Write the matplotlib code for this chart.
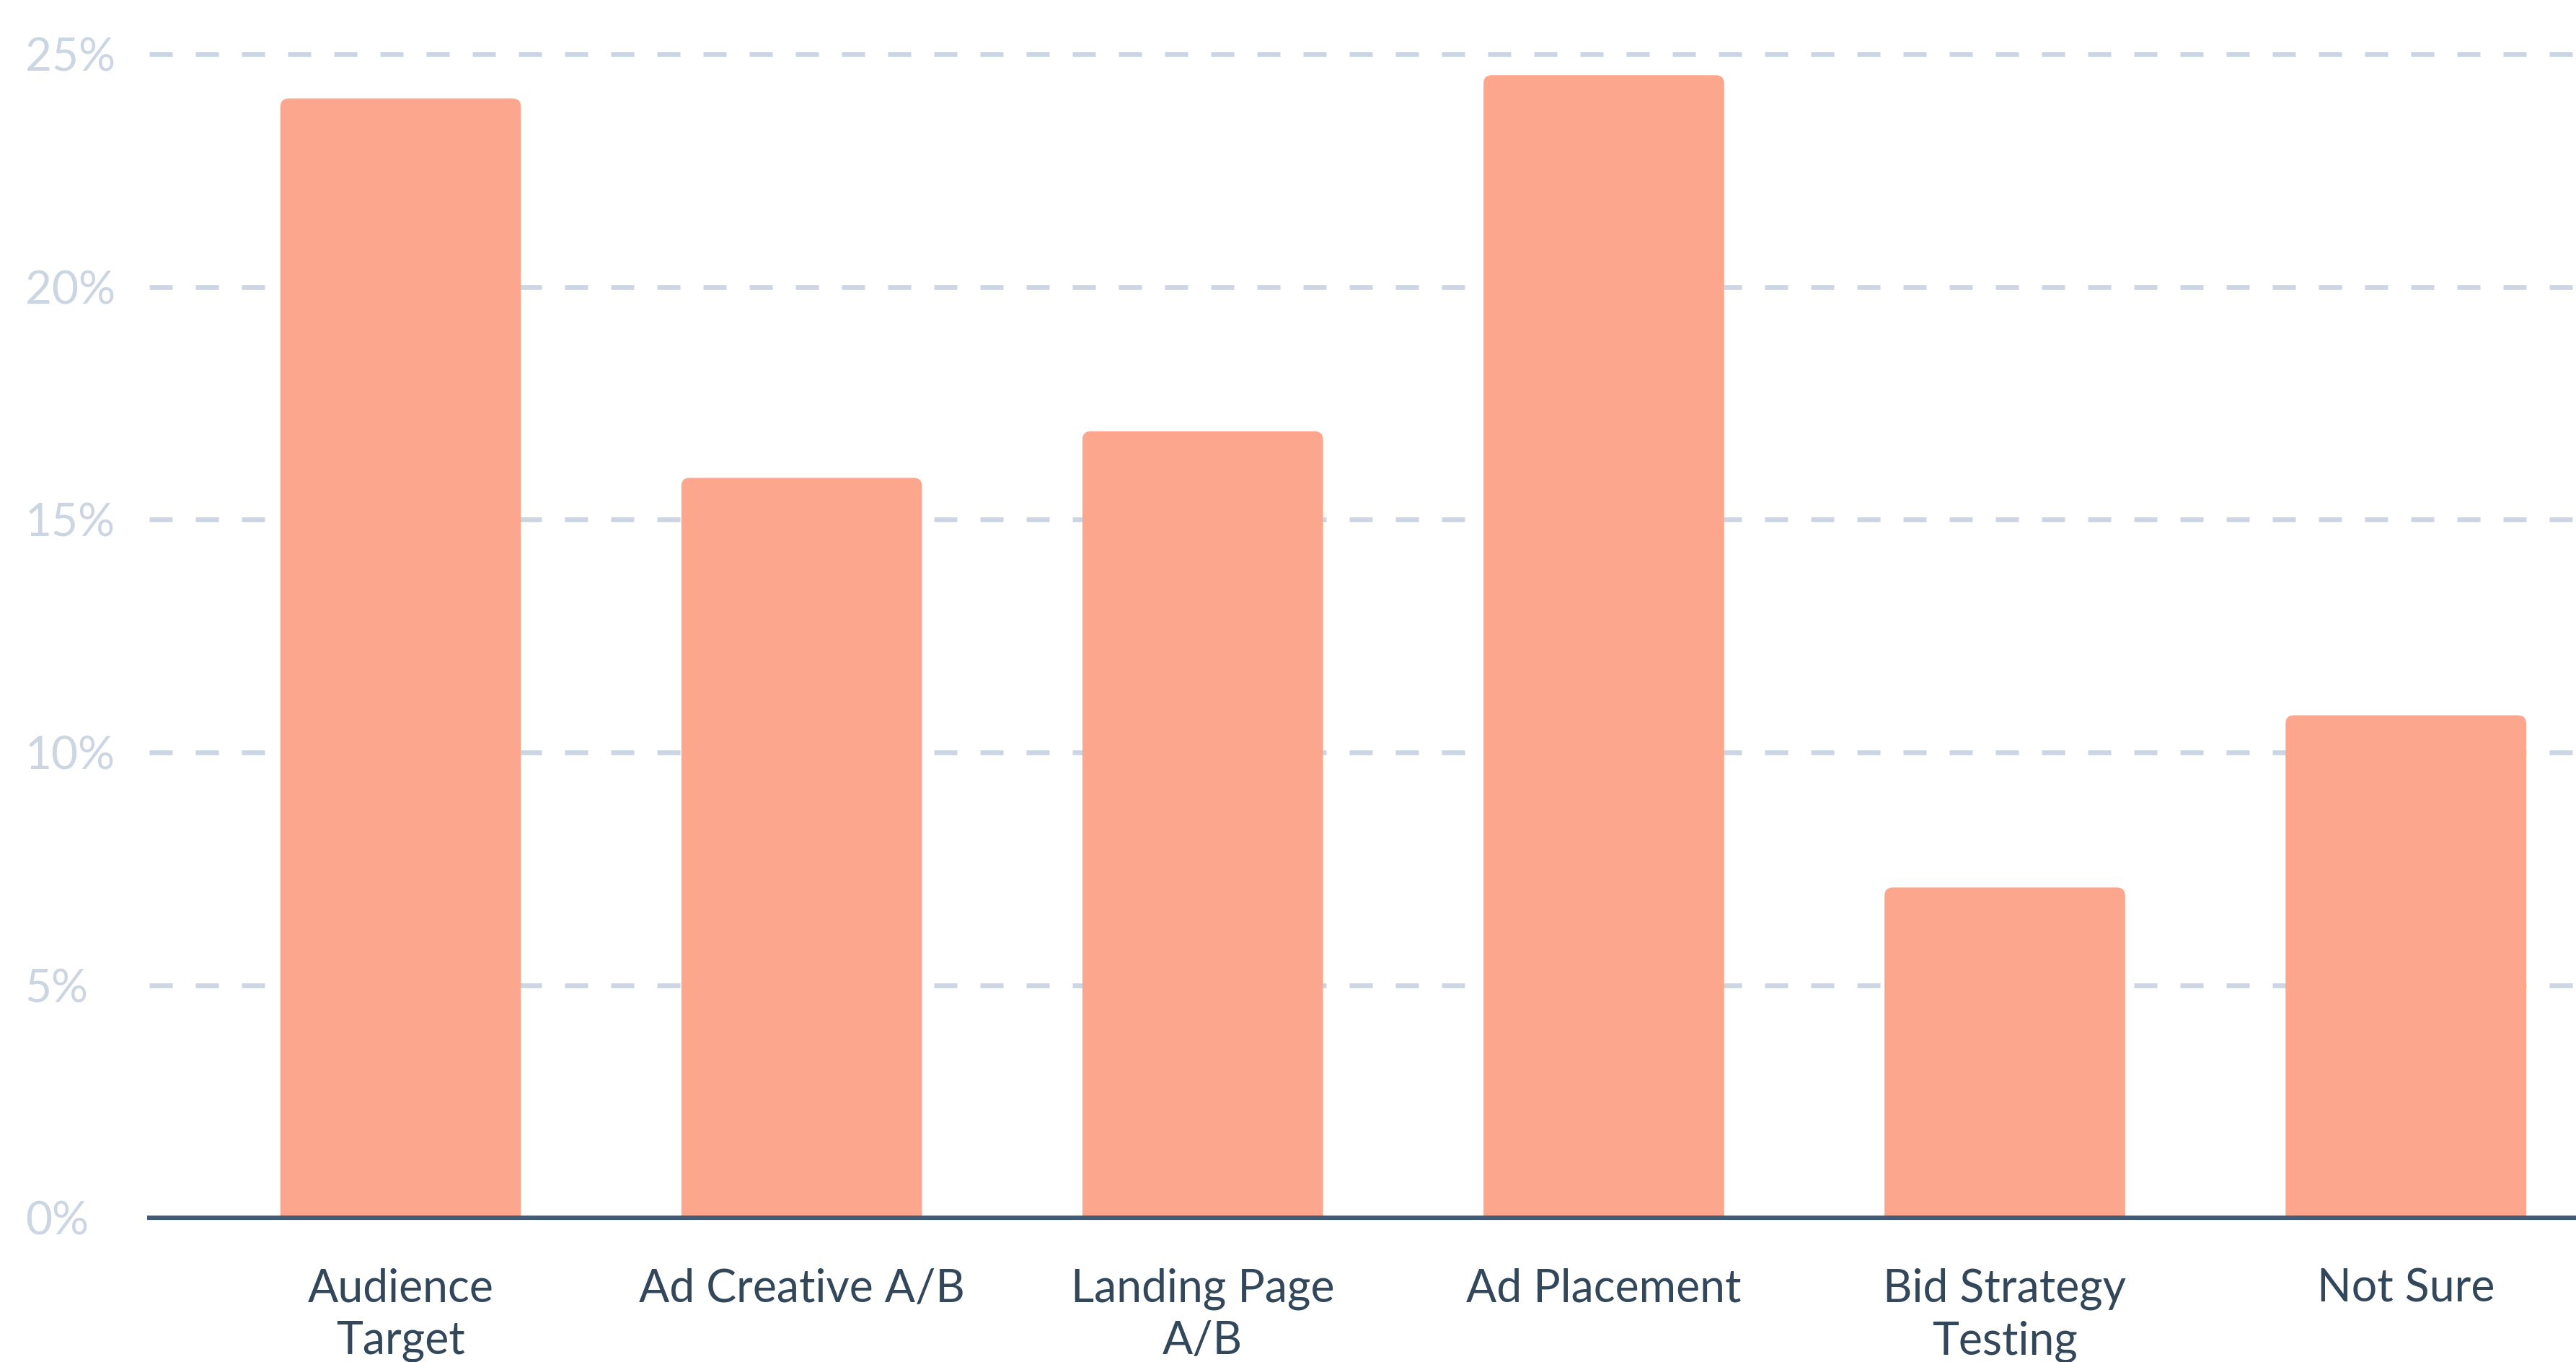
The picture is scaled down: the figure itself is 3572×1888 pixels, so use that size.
import matplotlib
matplotlib.use("Agg")
import matplotlib.pyplot as plt
from matplotlib.patches import FancyBboxPatch
from matplotlib.ticker import FuncFormatter

categories = ["Audience\nTarget", "Ad Creative A/B", "Landing Page\nA/B", "Ad Placement",
              "Bid Strategy\nTesting", "Not Sure"]
values = [24.05, 15.9, 16.9, 24.55, 7.1, 10.8]
yticks = [0, 5, 10, 15, 20, 25]

BAR = "#FCA68D"
GRID = "#CBD6E2"
AXIS = "#425B76"
TEXT = "#33475B"

plt.rcParams['font.family'] = ['Lato', 'DejaVu Sans']

fig = plt.figure(figsize=(17.865, 9.44), dpi=200)
ax = fig.add_axes([0.0579, 0.1057, 0.9421, 0.8943])
ax.set_xlim(-0.627, 5.426)
ax.set_ylim(0, 26.165)

width = 0.6
aspect = (26.165 / (0.8943 * 1888)) / (6.053 / (0.9421 * 3573))
for i, v in enumerate(values):
    p = FancyBboxPatch((i - width / 2, -2), width, v + 2,
                       boxstyle="round,pad=0,rounding_size=0.021",
                       mutation_aspect=aspect, facecolor=BAR, edgecolor="none",
                       zorder=2)
    ax.add_patch(p)

ax.set_yticks(yticks)
ax.yaxis.set_major_formatter(FuncFormatter(lambda v, p: f"{int(v)}%"))
ax.grid(axis='y', color=GRID, linewidth=2.4, linestyle=(0, (4.8, 4.8)), zorder=0)
ax.set_axisbelow(True)
ax.set_xticks(range(len(categories)))
ax.set_xticklabels(categories, linespacing=1.3)

for s in ["top", "right", "left"]:
    ax.spines[s].set_visible(False)
ax.spines["bottom"].set_color(AXIS)
ax.spines["bottom"].set_linewidth(2.2)
ax.spines["bottom"].set_zorder(3)

ax.tick_params(axis='x', length=0, pad=25, labelsize=22.5, labelcolor=TEXT)
ax.tick_params(axis='y', length=0, pad=62, labelsize=23, labelcolor=GRID)
for lab in ax.get_yticklabels():
    lab.set_horizontalalignment('left')

gl = ax.get_ygridlines()
gl[0].set_visible(False)

fig.savefig("out.png", dpi=200, facecolor="white")
